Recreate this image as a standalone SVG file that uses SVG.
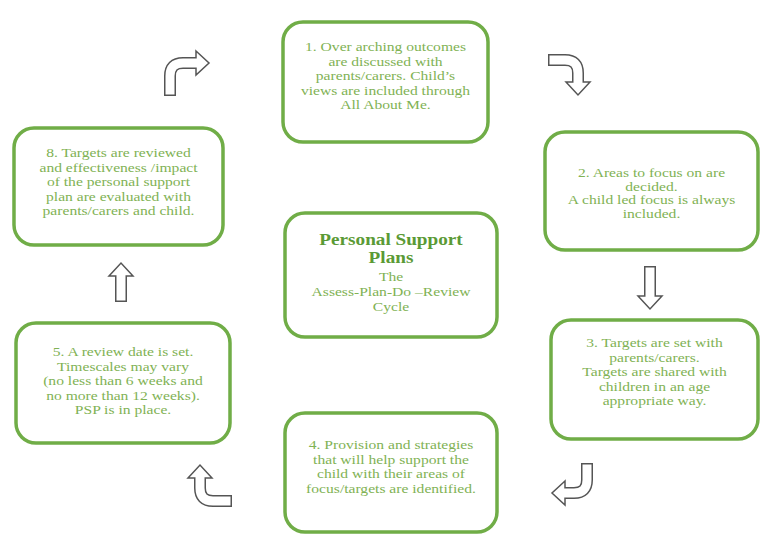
<svg xmlns="http://www.w3.org/2000/svg" width="762" height="536" viewBox="0 0 762 536">
<style>
.box{fill:#ffffff;stroke:#70AD47;stroke-width:3.5}
.t{font-family:"Liberation Serif","Times New Roman",serif;font-size:13px;fill:#7FB254;text-anchor:middle}
.h{font-family:"Liberation Serif","Times New Roman",serif;font-size:16px;font-weight:bold;fill:#5A9A35;text-anchor:middle}
.ao{fill:none;stroke:#555555;stroke-width:12;stroke-linecap:butt}
.ai{fill:none;stroke:#ffffff;stroke-width:9;stroke-linecap:butt}
.ah{fill:#ffffff;stroke:#555555;stroke-width:1.5;stroke-linejoin:miter}
</style>
<rect width="762" height="536" fill="#ffffff"/>
<g id="connectors">
  <g id="arrow-1-2">
    <path class="ao" d="M170,96 V76 Q170,63 183,63 H196"/>
    <polygon class="ah" points="196,51 209,63 196,75"/>
    <path class="ai" d="M170,94.5 V76 Q170,63 183,63 H198"/>
  </g>
  <g id="arrow-top-right">
    <path class="ao" d="M548,60 H565 Q578,60 578,73 V82"/>
    <polygon class="ah" points="566,82 590,82 578,95"/>
    <path class="ai" d="M549.5,60 H565 Q578,60 578,73 V84"/>
  </g>
  <g id="arrow-2-3">
    <path class="ao" d="M650,266 V296"/>
    <polygon class="ah" points="638,296 662,296 650,309"/>
    <path class="ai" d="M650,267.5 V298"/>
  </g>
  <g id="arrow-3-4">
    <path class="ao" d="M587,463 V480 Q587,493 574,493 H565"/>
    <polygon class="ah" points="565,481 552,493 565,505"/>
    <path class="ai" d="M587,464.5 V480 Q587,493 574,493 H563"/>
  </g>
  <g id="arrow-4-5">
    <path class="ao" d="M232,501 H213 Q200,501 200,488 V478"/>
    <polygon class="ah" points="188,478 200,465 212,478"/>
    <path class="ai" d="M230.5,501 H213 Q200,501 200,488 V476"/>
  </g>
  <g id="arrow-5-8">
    <path class="ao" d="M121,302 V276"/>
    <polygon class="ah" points="109,276 121,263 133,276"/>
    <path class="ai" d="M121,300.5 V274"/>
  </g>
</g>
<g id="node-1">
  <rect class="box" x="283" y="22" width="205" height="120" rx="20"/>
  <g transform="translate(385.5,0) scale(1.2 1)">
    <text class="t"><tspan x="0" y="51.5">1. Over arching outcomes</tspan><tspan x="0" y="66">are discussed with</tspan><tspan x="0" y="80.5">parents/carers. Child’s</tspan><tspan x="0" y="95">views are included through</tspan><tspan x="0" y="109.5">All About Me.</tspan></text>
  </g>
</g>
<g id="node-2">
  <rect class="box" x="545" y="132" width="213" height="118" rx="20"/>
  <g transform="translate(651.5,0) scale(1.2 1)">
    <text class="t"><tspan x="0" y="177.5">2. Areas to focus on are</tspan><tspan x="0" y="191">decided.</tspan><tspan x="0" y="204.5">A child led focus is always</tspan><tspan x="0" y="218">included.</tspan></text>
  </g>
</g>
<g id="node-3">
  <rect class="box" x="551" y="320" width="207" height="119" rx="20"/>
  <g transform="translate(654.5,0) scale(1.2 1)">
    <text class="t"><tspan x="0" y="347.5">3. Targets are set with</tspan><tspan x="0" y="362">parents/carers.</tspan><tspan x="0" y="376.5">Targets are shared with</tspan><tspan x="0" y="391">children in an age</tspan><tspan x="0" y="405.5">appropriate way.</tspan></text>
  </g>
</g>
<g id="node-4">
  <rect class="box" x="285" y="413" width="212" height="119" rx="20"/>
  <g transform="translate(391,0) scale(1.2 1)">
    <text class="t"><tspan x="0" y="449.5">4. Provision and strategies</tspan><tspan x="0" y="464">that will help support the</tspan><tspan x="0" y="478.5">child with their areas of</tspan><tspan x="0" y="493">focus/targets are identified.</tspan></text>
  </g>
</g>
<g id="node-5">
  <rect class="box" x="16" y="323" width="214" height="120" rx="20"/>
  <g transform="translate(123,0) scale(1.2 1)">
    <text class="t"><tspan x="0" y="356.5">5. A review date is set.</tspan><tspan x="0" y="371">Timescales may vary</tspan><tspan x="0" y="385.5">(no less than 6 weeks and</tspan><tspan x="0" y="400">no more than 12 weeks).</tspan><tspan x="0" y="414.5">PSP is in place.</tspan></text>
  </g>
</g>
<g id="node-8">
  <rect class="box" x="14" y="128" width="209" height="117" rx="20"/>
  <g transform="translate(118.5,0) scale(1.2 1)">
    <text class="t"><tspan x="0" y="157.5">8. Targets are reviewed</tspan><tspan x="0" y="172">and effectiveness /impact</tspan><tspan x="0" y="186.5">of the personal support</tspan><tspan x="0" y="201">plan  are evaluated with</tspan><tspan x="0" y="215.5">parents/carers and child.</tspan></text>
  </g>
</g>
<g id="node-center">
  <rect class="box" x="285" y="213" width="212" height="124" rx="20"/>
  <g transform="translate(391,0) scale(1.2 1)">
    <text class="h"><tspan x="0" y="245">Personal Support</tspan><tspan x="0" y="263">Plans</tspan></text>
    <text class="t"><tspan x="0" y="281">The</tspan><tspan x="0" y="296">Assess-Plan-Do –Review</tspan><tspan x="0" y="311">Cycle</tspan></text>
  </g>
</g>
</svg>
